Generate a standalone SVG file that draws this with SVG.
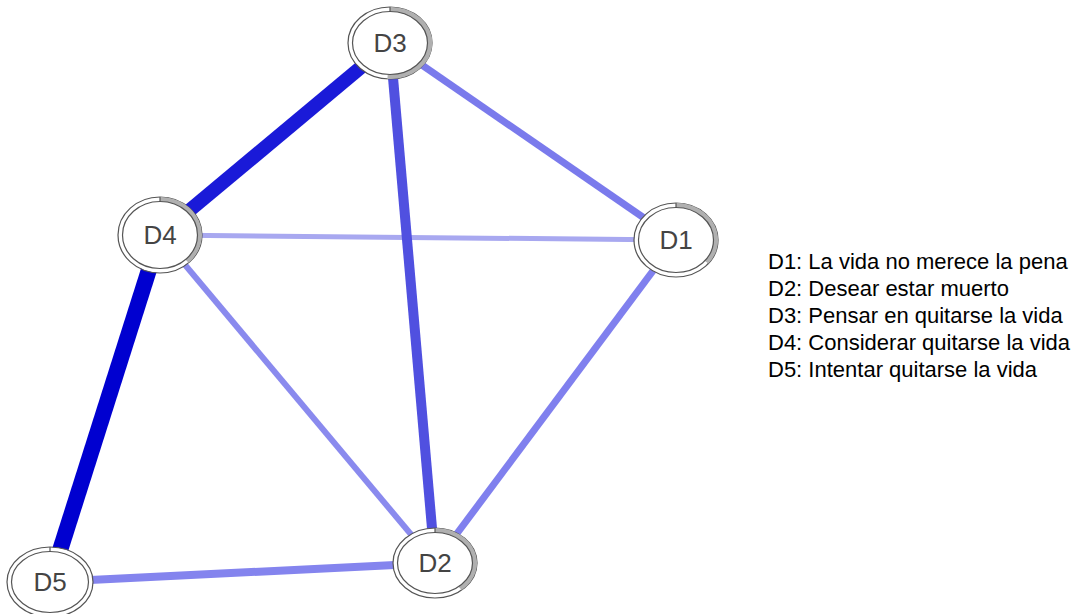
<svg xmlns="http://www.w3.org/2000/svg" width="1087" height="614" viewBox="0 0 1087 614">
<style>
.e{stroke-linecap:butt;fill:none}
.o{fill:#fff;stroke:#555;stroke-width:1.2}
.i{fill:#fff;stroke:#555;stroke-width:1.2}
.p{fill:#b0b0b0;stroke:none}
.t{stroke:#555;stroke-width:1.2}
.l{font-family:"Liberation Sans",Arial,sans-serif;font-size:26px;fill:#444;text-anchor:middle}
.g{font-family:"Liberation Sans",Arial,sans-serif;font-size:22px;fill:#000}
</style>
<rect width="1087" height="614" fill="#fff"/>
<g id="edges">
<line class="e" x1="160" y1="235" x2="676" y2="240" stroke="#a8a8f0" stroke-width="5"/>
<line class="e" x1="50" y1="582" x2="435" y2="563" stroke="#8484ee" stroke-width="8"/>
<line class="e" x1="160" y1="235" x2="435" y2="563" stroke="#8a8aee" stroke-width="6"/>
<line class="e" x1="676" y1="240" x2="435" y2="563" stroke="#8080ee" stroke-width="7"/>
<line class="e" x1="390" y1="43" x2="676" y2="240" stroke="#7a7aec" stroke-width="7"/>
<line class="e" x1="390" y1="43" x2="435" y2="563" stroke="#5050e0" stroke-width="10"/>
<line class="e" x1="390" y1="43" x2="160" y2="235" stroke="#1a1ad8" stroke-width="14"/>
<line class="e" x1="160" y1="235" x2="50" y2="582" stroke="#0000d0" stroke-width="16"/>
</g>
<g id="D3">
<ellipse class="o" cx="390" cy="43" rx="42" ry="36"/>
<path class="p" d="M390 43 L390 7 A42 36 0 1 1 387.4 78.9 Z"/>
<ellipse class="i" cx="390" cy="43" rx="37.5" ry="31.5"/>
<line class="t" x1="390" y1="7" x2="390" y2="11.5"/>
<text class="l" x="390" y="52">D3</text>
</g>
<g id="D4">
<ellipse class="o" cx="160" cy="235" rx="42" ry="38"/>
<path class="p" d="M160 235 L160 197 A42 38 0 0 1 188.7 262.7 Z"/>
<ellipse class="i" cx="160" cy="235" rx="37.5" ry="33.5"/>
<line class="t" x1="160" y1="197" x2="160" y2="201.5"/>
<text class="l" x="160" y="244">D4</text>
</g>
<g id="D1">
<ellipse class="o" cx="676" cy="240" rx="42" ry="37"/>
<path class="p" d="M676 240 L676 203 A42 37 0 0 1 708.4 263.6 Z"/>
<ellipse class="i" cx="676" cy="240" rx="37.5" ry="32.5"/>
<line class="t" x1="676" y1="203" x2="676" y2="207.5"/>
<text class="l" x="676" y="249">D1</text>
</g>
<g id="D2">
<ellipse class="o" cx="435" cy="563" rx="42" ry="35"/>
<path class="p" d="M435 563 L435 528 A42 35 0 0 1 461.8 590 Z"/>
<ellipse class="i" cx="435" cy="563" rx="37.5" ry="30.5"/>
<line class="t" x1="435" y1="528" x2="435" y2="532.5"/>
<text class="l" x="435" y="572">D2</text>
</g>
<g id="D5">
<ellipse class="o" cx="50" cy="582" rx="43" ry="35"/>
<ellipse class="i" cx="50" cy="582" rx="38.5" ry="30.5"/>
<line class="t" x1="50" y1="547" x2="50" y2="551.5"/>
<text class="l" x="50" y="591">D5</text>
</g>
<g id="legend">
<text class="g" x="768" y="269">D1: La vida no merece la pena</text>
<text class="g" x="768" y="296">D2: Desear estar muerto</text>
<text class="g" x="768" y="323">D3: Pensar en quitarse la vida</text>
<text class="g" x="768" y="350">D4: Considerar quitarse la vida</text>
<text class="g" x="768" y="377">D5: Intentar quitarse la vida</text>
</g>
</svg>
